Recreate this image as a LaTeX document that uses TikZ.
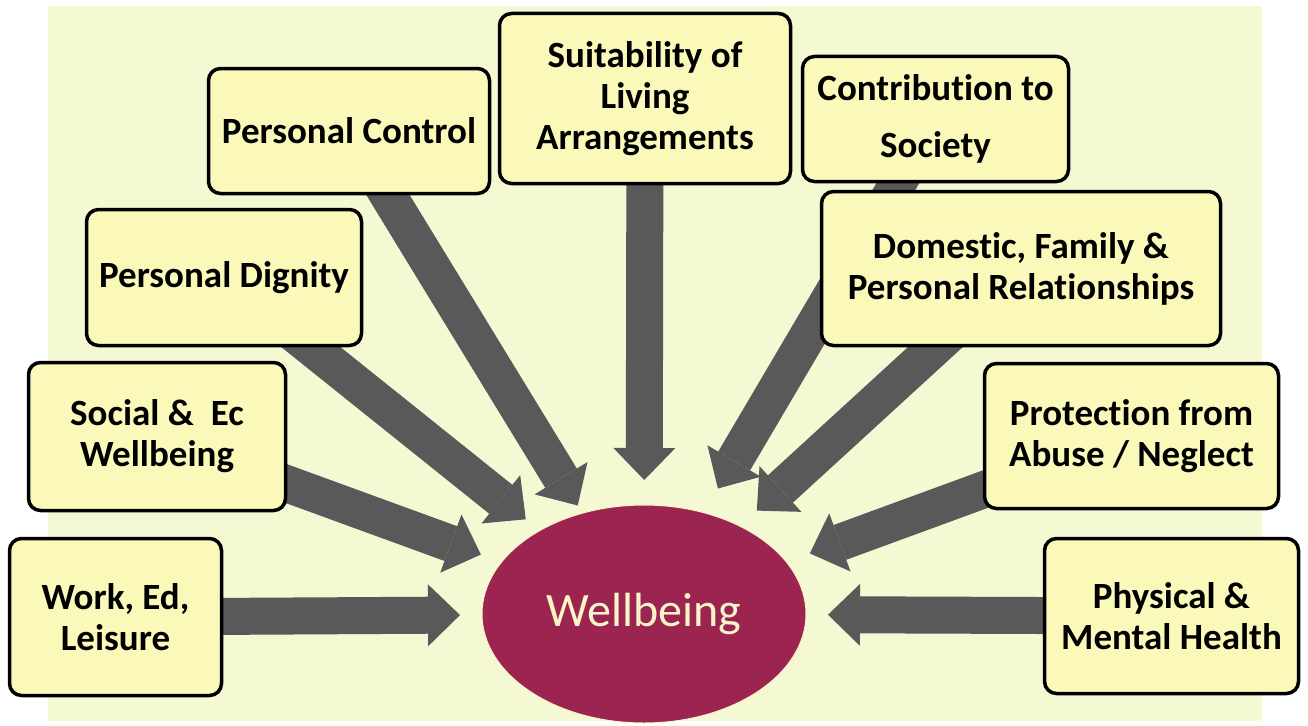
\documentclass[tikz,border=0pt]{standalone}
\usepackage{fontspec}
\setmainfont{Carlito}[Ligatures=NoCommon]
\usetikzlibrary{positioning, arrows.meta, shapes, calc}
\definecolor{bgyellow}{HTML}{F5F9D3}
\definecolor{boxyellow}{HTML}{FBF9B9}
\definecolor{arrowgrey}{HTML}{595959}
\definecolor{wine}{HTML}{9C2451}
\definecolor{cream}{HTML}{FAF5C8}
\pgfdeclarelayer{bg}
\pgfdeclarelayer{arrows}
\pgfsetlayers{bg,arrows,main}

\begin{document}
\begin{tikzpicture}[
    x=1pt, y=-1pt,
    box/.style={rectangle, draw, line width=3.5pt, rounded corners=12pt, fill=boxyellow, align=center, inner sep=0pt, font=\fontsize{37}{41}\selectfont\bfseries},
    arrow/.style={draw=arrowgrey, line width=37pt, -{Triangle[width=62pt, length=32pt, line width=0pt]}, shorten <=-25pt}
]
    \useasboundingbox (0,0) rectangle (1308,725);
    \begin{pgfonlayer}{bg}
        \fill[bgyellow] (48,6) rectangle (1262,721);
    \end{pgfonlayer}

    % Factors round the top
    \node[box, minimum width=281pt, minimum height=125pt] (control) at (349,131) {Personal Control};
    \node[box, minimum width=291pt, minimum height=170pt] (suit) at (645,98.5) {Suitability of\\Living\\Arrangements};
    \node[box, minimum width=266pt, minimum height=125pt] (contrib) at (935.5,119) {Contribution to\\[16pt]Society};
    \node[box, minimum width=275pt, minimum height=136pt] (dignity) at (224,277.5) {Personal Dignity};
    \node[box, minimum width=399pt, minimum height=154pt] (domestic) at (1021,268.5) {Domestic, Family \&\\Personal Relationships};

    % Factors at the sides
    \node[box, minimum width=257pt, minimum height=148pt] (social) at (157,436.5) {Social \&\ \ Ec\\Wellbeing};
    \node[box, minimum width=294pt, minimum height=145pt] (protection) at (1131.5,436) {Protection from\\Abuse / Neglect};
    \node[box, minimum width=212pt, minimum height=157pt] (work) at (115.5,617) {Work, Ed,\\Leisure};
    \node[box, minimum width=254pt, minimum height=155pt] (physical) at (1171.5,616) {Physical \&\\Mental Health};

    % Centre
    \node[ellipse, fill=wine, draw=cream, line width=1pt, outer sep=0pt, minimum width=324pt, minimum height=218pt, text=cream, font=\fontsize{48}{56}\selectfont] (well) at (644,614) {Wellbeing};

    % Arrows
    \begin{pgfonlayer}{arrows}
        \draw[arrow, shorten >=22pt] (work) -- (well);
        \draw[arrow, shorten >=22pt] (social) -- (well);
        \draw[arrow, shorten >=18pt] (dignity) -- (well);
        \draw[arrow, shorten >=9pt] (control) -- (well);
        \draw[arrow, shorten >=25pt] (suit) -- (well);
        \draw[arrow, shorten >=28pt] (contrib) -- (well);
        \draw[arrow, shorten >=23pt] (domestic) -- (well);
        \draw[arrow, shorten >=25pt] (protection) -- (well);
        \draw[arrow, shorten >=22pt] (physical) -- (well);
    \end{pgfonlayer}
\end{tikzpicture}
\end{document}
